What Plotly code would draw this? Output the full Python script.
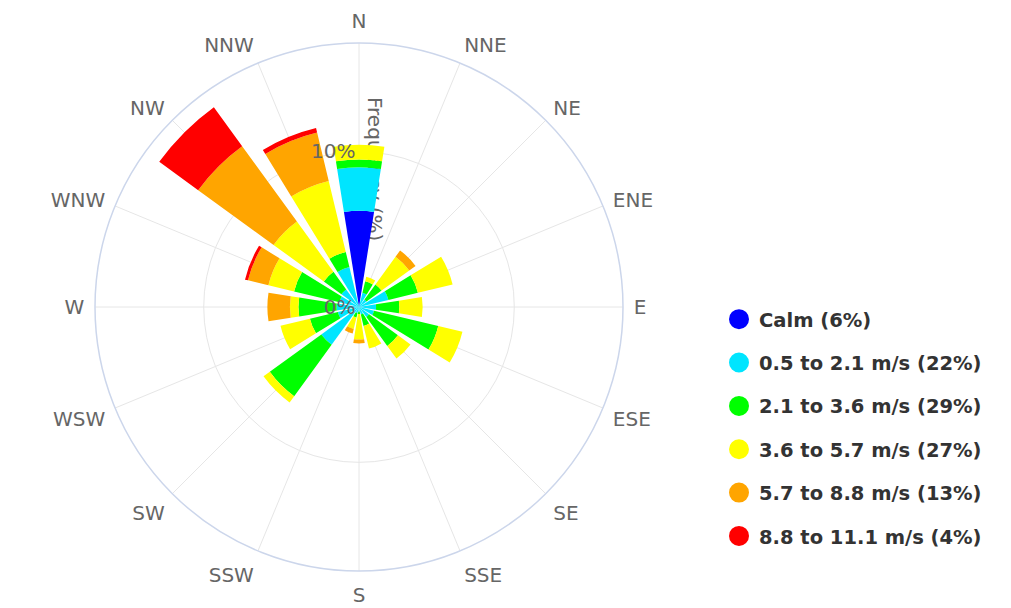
import plotly.graph_objects as go

directions = ["N", "NNE", "NE", "ENE", "E", "ESE", "SE", "SSE",
              "S", "SSW", "SW", "WSW", "W", "WNW", "NW", "NNW"]

series_names = ["Calm (6%)", "0.5 to 2.1 m/s (22%)", "2.1 to 3.6 m/s (29%)",
                "3.6 to 5.7 m/s (27%)", "5.7 to 8.8 m/s (13%)", "8.8 to 11.1 m/s (4%)"]
series_colors = ["#0000ff", "#00e5ff", "#00ff00", "#ffff00", "#ffa500", "#ff0000"]

# frequency (%) per direction, N .. NNW
calm      = [6.2, 0, 0, 0, 0, 0, 0, 0, 0, 0, 0, 0, 0, 0, 0, 0]
s_0p5_2p1 = [2.8, 0.95, 0.6, 1.95, 1.1, 1.0, 0.8, 0.5, 0.3, 0.4, 3.0, 1.4, 1.45, 1.3, 1.4, 2.65]
s_2p1_3p6 = [0.5, 0.75, 1.2, 1.95, 1.5, 4.25, 2.3, 0.75, 0.15, 0.3, 4.1, 1.85, 2.45, 3.0, 1.4, 1.0]
s_3p6_5p7 = [0.95, 0.3, 2.2, 2.3, 1.5, 1.6, 1.0, 1.5, 1.65, 0.75, 0.5, 1.95, 0.55, 1.7, 4.0, 4.7]
s_5p7_8p8 = [0, 0, 0.5, 0, 0, 0, 0, 0, 0.25, 0.3, 0, 0, 1.45, 1.35, 6.0, 3.2]
s_8p8_111 = [0, 0, 0, 0, 0, 0, 0, 0, 0, 0, 0, 0, 0, 0.2, 3.1, 0.3]

series_values = [calm, s_0p5_2p1, s_2p1_3p6, s_3p6_5p7, s_5p7_8p8, s_8p8_111]

radial_ticks = [0, 10]
radial_max = 17
radial_title = "Frequency (%)"

angles = [i * 360.0 / len(directions) for i in range(len(directions))]

FONT = "DejaVu Sans"
OFF = 8                      # page body margin
W, H = 1011 - OFF, 608 - OFF


def px(x):                   # window pixel x -> paper fraction
    return (x - OFF) / W


def py(y):                   # window pixel y -> paper fraction
    return (H - (y - OFF)) / H


fig = go.Figure()

# cartesian helper (drawn beneath the polar layer) carrying the rotated radial title
fig.add_trace(go.Scatter(x=[None], y=[None], xaxis="x", yaxis="y",
                         showlegend=False, hoverinfo="skip"))

for name, color, vals in zip(series_names, series_colors, series_values):
    fig.add_trace(go.Barpolar(
        r=vals, theta=angles, width=18, name=name,
        marker=dict(color=color, line=dict(width=0)),
        showlegend=False, legendgroup=name,
    ))
for name, color in zip(series_names, series_colors):
    fig.add_trace(go.Scatterpolar(
        r=[None], theta=[None], mode="markers", name=name, legendgroup=name,
        marker=dict(color=color, size=16, line=dict(color=color, width=4)),
        showlegend=True,
    ))

cx, cy, R = 359, 307, 264

fig.update_layout(
    width=W, height=H,
    margin=dict(l=0, r=0, t=0, b=0),
    paper_bgcolor="white",
    plot_bgcolor="rgba(0,0,0,0)",
    font=dict(family=FONT, color="#666666", size=18),
    xaxis=dict(
        domain=[px(354), px(394)], range=[0, 1],
        tickmode="array", tickvals=[0.5], ticktext=[radial_title], tickangle=90,
        showgrid=False, zeroline=False, showline=False, ticks="",
        anchor="free", position=py(96), fixedrange=True,
        tickfont=dict(size=20, color="#666666", family=FONT),
    ),
    yaxis=dict(domain=[py(300), py(96)], visible=False, fixedrange=True),
    polar=dict(
        domain=dict(x=[px(cx - R), px(cx + R)],
                    y=[py(cy + R), py(cy - R)]),
        bgcolor="rgba(0,0,0,0)",
        barmode="stack",
        angularaxis=dict(
            direction="clockwise", rotation=90,
            tickmode="array", tickvals=angles, ticktext=directions,
            showgrid=True, gridcolor="#e6e6e6", gridwidth=1,
            showline=True, linecolor="#ccd6eb", linewidth=1.5,
            ticks="outside", ticklen=6, tickcolor="rgba(0,0,0,0)",
            tickfont=dict(size=20, color="#666666", family=FONT),
        ),
        radialaxis=dict(
            range=[0, radial_max], angle=90, side="counterclockwise",
            tickmode="array", tickvals=radial_ticks,
            ticktext=[f"{v}%" for v in radial_ticks], tickangle=90,
            showgrid=True, gridcolor="#e6e6e6", gridwidth=1,
            showline=False, ticks="",
            tickfont=dict(size=20, color="#666666", family=FONT),
        ),
    ),
    legend=dict(
        x=px(719), y=py(428), xanchor="left", yanchor="middle",
        font=dict(size=19.5, color="#333333", family=FONT, weight="bold"),
        tracegroupgap=15, bgcolor="rgba(0,0,0,0)",
        itemsizing="trace",
    ),
)

fig.write_html("out.html")
